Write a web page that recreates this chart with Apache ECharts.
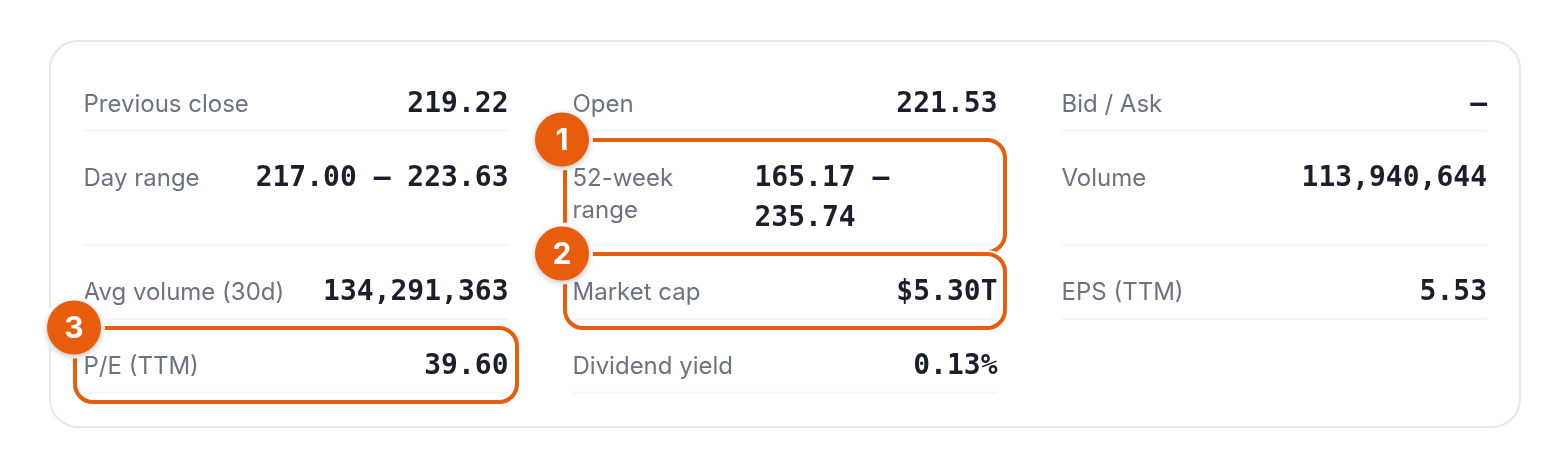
<!DOCTYPE html>
<html>
<head>
<meta charset="utf-8">
<style>
html, body { margin: 0; padding: 0; background: #fff; }
#main { width: 1560px; height: 468px; }
</style>
<script src="https://cdn.jsdelivr.net/npm/echarts@6/dist/echarts.min.js"></script>
</head>
<body>
<div id="main"></div>
<script>
// stats, one list per column
const col1Labels = ['Previous close', 'Day range', 'Avg volume (30d)', 'P/E (TTM)'];
const col1Values = ['219.22', '217.00 — 223.63', '134,291,363', '39.60'];
const col2Labels = ['Open', '52-week\nrange', 'Market cap', 'Dividend yield'];
const col2Values = ['221.53', '165.17 —\n235.74', '$5.30T', '0.13%'];
const col3Labels = ['Bid / Ask', 'Volume', 'EPS (TTM)'];
const col3Values = ['—', '113,940,644', '5.53'];
const badgeLabels = ['1', '2', '3'];

const ORANGE = '#e85d0c';
const LABEL_FONT = 'Inter, sans-serif';
const VALUE_FONT = '"DejaVu Sans Mono", monospace';

// row centre and bottom rule for each of the four rows
const rowY = [105, 179, 293, 367];
const ruleY = [130.5, 245, 319, 392.5];
const columns = [
  { left: 83.5, right: 508.5, labels: col1Labels, values: col1Values },
  { left: 572.5, right: 997.5, labels: col2Labels, values: col2Values },
  { left: 1061.5, right: 1487, labels: col3Labels, values: col3Values }
];

const elements = [];

// card
elements.push({
  type: 'rect',
  shape: { x: 50, y: 41, width: 1470, height: 386, r: 28 },
  style: { fill: '#fff', stroke: '#e5e7eb', lineWidth: 2 }
});

columns.forEach(function (col) {
  col.labels.forEach(function (label, i) {
    const wrapped = label.indexOf('\n') >= 0;
    elements.push({
      type: 'text',
      style: {
        x: col.left, y: rowY[i] + (wrapped ? 16 : 0), text: label,
        font: '400 24px ' + LABEL_FONT, fill: '#6b7280',
        lineHeight: 32, align: 'left', verticalAlign: 'middle'
      }
    });
    elements.push({
      type: 'line',
      shape: { x1: col.left, y1: ruleY[i], x2: col.right, y2: ruleY[i] },
      style: { stroke: '#f5f6f7', lineWidth: 2 }
    });
    const valueWrapped = col.values[i].indexOf('\n') >= 0;
    elements.push({
      type: 'text',
      style: {
        x: valueWrapped ? 754.5 : col.right, y: rowY[i] + (valueWrapped ? 20 : 0), text: col.values[i],
        font: '700 28px ' + VALUE_FONT, fill: '#1a1f2b',
        lineHeight: 40, align: valueWrapped ? 'left' : 'right', verticalAlign: 'middle'
      }
    });
  });
});

// highlight boxes, white halo underneath so a later box cuts the earlier one
[
  { x: 565, y: 140, width: 440, height: 112 },
  { x: 565, y: 254, width: 440, height: 74 },
  { x: 75, y: 328, width: 442, height: 74 }
].forEach(function (box) {
  const shape = Object.assign({ r: 18 }, box);
  elements.push({ type: 'rect', shape: shape, style: { fill: 'none', stroke: '#fff', lineWidth: 8 } });
  elements.push({ type: 'rect', shape: shape, style: { fill: 'none', stroke: ORANGE, lineWidth: 4 } });
});

// numbered badges
[
  { cx: 562, cy: 139.5 },
  { cx: 562, cy: 253.5 },
  { cx: 74, cy: 327.5 }
].forEach(function (pos, i) {
  elements.push({
    type: 'circle',
    shape: { cx: pos.cx, cy: pos.cy, r: 31 },
    style: { fill: '#fff' }
  });
  elements.push({
    type: 'circle',
    shape: { cx: pos.cx, cy: pos.cy, r: 27 },
    style: { fill: ORANGE, shadowBlur: 6, shadowColor: 'rgba(0,0,0,0.25)', shadowOffsetY: 2 }
  });
  elements.push({
    type: 'text',
    style: {
      x: pos.cx, y: pos.cy + 1, text: badgeLabels[i],
      font: '700 30px ' + LABEL_FONT, fill: '#fff',
      align: 'center', verticalAlign: 'middle'
    }
  });
});

const chart = echarts.init(document.getElementById('main'));
chart.setOption({
  backgroundColor: '#fff',
  animation: false,
  graphic: { elements: elements }
});
</script>
</body>
</html>
